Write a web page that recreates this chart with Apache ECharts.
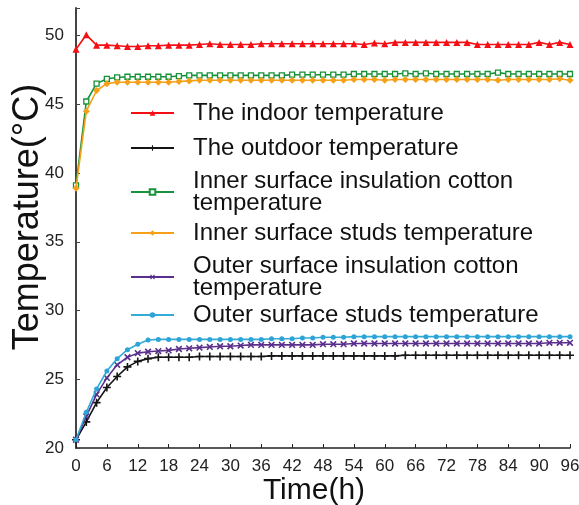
<!DOCTYPE html>
<html><head><meta charset="utf-8">
<script src="https://cdn.jsdelivr.net/npm/echarts@6/dist/echarts.min.js"></script>
<style>html,body{margin:0;padding:0;background:#fff}#c{width:579px;height:505px}</style>
</head><body><div id="c"></div>
<script>
const hours = [0,2,4,6,8,10,12,14,16,18,20,22,24,26,28,30,32,34,36,38,40,42,44,46,48,50,52,54,56,58,60,62,64,66,68,70,72,74,76,78,80,82,84,86,88,90,92,94,96];
const xTicks = [0,6,12,18,24,30,36,42,48,54,60,66,72,78,84,90,96];
const yTicks = [20,25,30,35,40,45,50];
const indoor = [49.0,50.05,49.3,49.3,49.25,49.2,49.2,49.25,49.25,49.3,49.3,49.3,49.35,49.4,49.35,49.35,49.35,49.35,49.4,49.4,49.4,49.4,49.4,49.4,49.4,49.4,49.4,49.4,49.35,49.45,49.4,49.5,49.5,49.5,49.5,49.5,49.5,49.5,49.5,49.35,49.35,49.35,49.35,49.35,49.35,49.5,49.35,49.5,49.35];
const outdoor = [20.6,21.9,23.3,24.4,25.2,25.9,26.3,26.5,26.6,26.6,26.6,26.6,26.65,26.65,26.65,26.65,26.65,26.65,26.65,26.7,26.7,26.7,26.7,26.7,26.7,26.7,26.7,26.7,26.7,26.7,26.7,26.7,26.75,26.75,26.75,26.75,26.75,26.75,26.75,26.75,26.75,26.75,26.75,26.75,26.75,26.75,26.75,26.75,26.75];
const innerCotton = [39.1,45.2,46.5,46.85,46.95,47.0,47.0,47.0,47.0,47.0,47.05,47.1,47.1,47.1,47.1,47.1,47.1,47.1,47.1,47.1,47.1,47.15,47.15,47.15,47.15,47.15,47.15,47.2,47.2,47.2,47.2,47.2,47.25,47.2,47.25,47.2,47.2,47.2,47.2,47.2,47.2,47.3,47.2,47.2,47.2,47.2,47.2,47.2,47.2];
const innerStuds = [38.9,44.5,46.0,46.5,46.6,46.6,46.6,46.6,46.6,46.6,46.65,46.7,46.75,46.75,46.75,46.75,46.75,46.75,46.75,46.75,46.75,46.75,46.75,46.75,46.75,46.75,46.75,46.8,46.8,46.8,46.75,46.8,46.8,46.8,46.8,46.8,46.8,46.8,46.8,46.8,46.8,46.75,46.8,46.8,46.8,46.8,46.8,46.85,46.75];
const outerCotton = [20.6,22.3,23.9,25.1,26.05,26.6,26.9,27.0,27.05,27.1,27.2,27.25,27.3,27.35,27.4,27.4,27.45,27.5,27.5,27.5,27.5,27.5,27.5,27.5,27.55,27.55,27.55,27.6,27.6,27.6,27.6,27.6,27.6,27.6,27.6,27.6,27.6,27.6,27.6,27.6,27.6,27.6,27.6,27.6,27.6,27.6,27.65,27.65,27.65];
const outerStuds = [20.6,22.6,24.3,25.6,26.5,27.15,27.55,27.85,27.9,27.9,27.9,27.9,27.9,27.9,27.9,27.9,27.9,27.9,27.9,27.95,27.95,27.95,28.0,28.0,28.05,28.05,28.05,28.1,28.1,28.1,28.1,28.1,28.1,28.1,28.1,28.1,28.1,28.1,28.1,28.1,28.1,28.1,28.1,28.1,28.1,28.1,28.1,28.1,28.1];
const names = ['The indoor temperature','The outdoor temperature','Inner surface insulation cotton temperature','Inner surface studs temperature','Outer surface insulation cotton temperature','Outer surface studs temperature'];
const legendText = ['The indoor temperature','The outdoor temperature','Inner surface insulation cotton\ntemperature','Inner surface studs temperature','Outer surface insulation cotton\ntemperature','Outer surface studs temperature'];

const FONT = '"Liberation Sans", Arial, sans-serif';
const plusPath = 'path://M4,0h2v4h4v2h-4v4h-2v-4h-4v-2h4z';
const colors = ['#f50f14','#151515','#16923a','#f5a018','#5a2f8c','#2ea3d8'];
const lineColors = ['#f50f14','#151515','#16923a','#f5a018','#5a2f8c','#32acd6'];
const symbols = ['triangle', plusPath, 'rect', 'diamond', plusPath, 'circle'];
const symSizes = [7, 8, 5, 7, 8, 5];
const symRot = [0,0,0,0,45,0];
const seriesData = [indoor, outdoor, innerCotton, innerStuds, outerCotton, outerStuds];
const legendTops = [100, 135, 169, 220, 254, 302];

const series = names.map((n,i)=>({
  name: n, type: 'line',
  data: hours.map((h,k)=>[h, seriesData[i][k]]),
  symbol: symbols[i], symbolSize: symSizes[i], symbolRotate: symRot[i],
  showAllSymbol: true,
  lineStyle: {color: lineColors[i], width: 1.6},
  itemStyle: i===2 ? {color:'#fff', borderColor: colors[i], borderWidth:1.3} : {color: colors[i]},
  z: 2 + i
}));

const legends = names.map((n,i)=>({
  data: [n], left: 130, top: legendTops[i], padding: 0, orient:'vertical',
  itemWidth: 43, itemHeight: 7,
  formatter: ()=>legendText[i],
  textStyle: {fontFamily: FONT, fontSize: 24, color:'#111', lineHeight: legendText[i].includes('\n')?22:26, padding:[0,0,0,14]},
  selectedMode: false
}));

const chart = echarts.init(document.getElementById('c'), null, {renderer:'canvas'});
chart.setOption({
  animation: false,
  backgroundColor: '#fff',
  grid: {left: 76, right: 9, top: 8, bottom: 57, containLabel: false, outerBoundsMode: 'none'},
  legend: legends,
  xAxis: {
    type: 'value', min: 0, max: 96, interval: 6,
    name: 'Time(h)', nameLocation: 'middle', nameGap: 28, nameMoveOverlap: false,
    nameTextStyle: {fontFamily: FONT, fontSize: 30, color:'#111', padding:[0,18,0,0]},
    axisLine: {lineStyle: {color:'#222', width: 1.5}},
    axisTick: {inside: true, length: 4, lineStyle:{color:'#222'}},
    axisLabel: {fontFamily: FONT, fontSize: 17, color:'#222', margin: 10, formatter: v=>xTicks.includes(v)?String(v):''},
    splitLine: {show: false}
  },
  yAxis: {
    type: 'value', min: 20, max: 52, interval: 5,
    name: 'Temperature(°C)', nameLocation: 'middle', nameGap: 30, nameMoveOverlap: false,
    nameTextStyle: {fontFamily: FONT, fontSize: 36, color:'#111', padding:[0,0,0,22]},
    axisLine: {show: true, lineStyle: {color:'#444', width: 2}},
    axisTick: {show: true, inside: true, length: 4, lineStyle:{color:'#444'}},
    axisLabel: {fontFamily: FONT, fontSize: 17, color:'#222', margin: 12, formatter: v=>yTicks.includes(v)?String(v):''},
    splitLine: {show: false}
  },
  series: series
});
</script></body></html>
